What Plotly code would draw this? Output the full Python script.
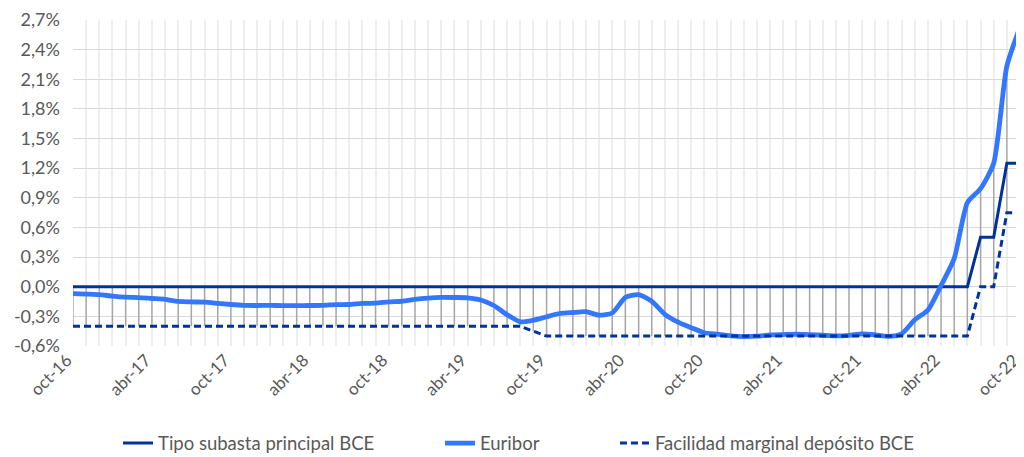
import plotly.graph_objects as go

months_es = ["ene", "feb", "mar", "abr", "may", "jun", "jul", "ago", "sep", "oct", "nov", "dic"]
categories = []
for k in range(73):
    m = (9 + k) % 12
    y = 16 + (9 + k) // 12
    categories.append(f"{months_es[m]}-{y:02d}")

tick_labels = ["oct-16", "abr-17", "oct-17", "abr-18", "oct-18", "abr-19", "oct-19",
               "abr-20", "oct-20", "abr-21", "oct-21", "abr-22", "oct-22"]

# Tipo subasta principal BCE (%)
tipo_bce = [0.0] * 69 + [0.5, 0.5, 1.25, 1.25]

# Facilidad marginal depósito BCE (%)
deposito_bce = [-0.4] * 35 + [-0.45] + [-0.5] * 33 + [0.0, 0.0, 0.75, 0.75]

# Euribor 12M (%)
euribor = [
    -0.069, -0.074, -0.080, -0.095, -0.106, -0.110, -0.119, -0.127, -0.149, -0.154, -0.156, -0.168,
    -0.180, -0.189, -0.190, -0.189, -0.191, -0.191, -0.190, -0.188, -0.181, -0.180, -0.169, -0.166,
    -0.154, -0.147, -0.129, -0.116, -0.108, -0.109, -0.112, -0.134, -0.190, -0.283, -0.356, -0.339,
    -0.304, -0.271, -0.261, -0.253, -0.288, -0.266, -0.108, -0.081, -0.147, -0.279, -0.359, -0.415,
    -0.466, -0.481, -0.497, -0.505, -0.501, -0.487, -0.484, -0.481, -0.484, -0.491, -0.498, -0.492,
    -0.477, -0.487, -0.502, -0.477, -0.335, -0.237, 0.013, 0.287, 0.852, 0.992, 1.249, 2.233, 2.629,
]

y_ticks = [-0.6, -0.3, 0.0, 0.3, 0.6, 0.9, 1.2, 1.5, 1.8, 2.1, 2.4, 2.7]
y_ticktext = ["-0,6%", "-0,3%", "0,0%", "0,3%", "0,6%", "0,9%", "1,2%", "1,5%", "1,8%", "2,1%", "2,4%", "2,7%"]

NAVY = "#003399"
BRIGHT = "#3377FF"
TEXT = "#595959"
FONT = "Lato"

# high-low lines (gray verticals between the max and min of the series in each month)
hl_x, hl_y = [], []
for c, a, b, d in zip(categories, tipo_bce, euribor, deposito_bce):
    hl_x += [c, c, None]
    hl_y += [max(a, b, d), min(a, b, d), None]

fig = go.Figure()
fig.add_trace(go.Scatter(x=hl_x, y=hl_y, mode="lines", line=dict(color="#A6A6A6", width=1.4),
                         showlegend=False, hoverinfo="skip"))
fig.add_trace(go.Scatter(x=categories, y=tipo_bce, mode="lines", name="Tipo subasta principal BCE",
                         line=dict(color=NAVY, width=3), legend="legend"))
fig.add_trace(go.Scatter(x=categories, y=euribor, mode="lines", name="Euribor",
                         line=dict(color=BRIGHT, width=4.8, shape="spline", smoothing=0.6),
                         legend="legend2"))
fig.add_trace(go.Scatter(x=categories, y=deposito_bce, mode="lines", name="Facilidad marginal depósito BCE",
                         line=dict(color=NAVY, width=3, dash="7px,4px"), legend="legend3"))

ticktext = [c if c in tick_labels else "" for c in categories]

leg_common = dict(orientation="h", xref="container", xanchor="left",
                  yref="container", y=0.03, yanchor="middle",
                  font=dict(family=FONT, size=18.5, color=TEXT))

# page has an 8px body margin: figure is sized/offset to compensate
fig.update_layout(
    width=1016, height=449,
    margin=dict(l=65, r=4, t=12, b=111, autoexpand=False),
    paper_bgcolor="white", plot_bgcolor="white",
    font=dict(family=FONT, size=17, color=TEXT),
    legend=dict(x=0.1083, **leg_common),
    legend2=dict(x=0.4252, **leg_common),
    legend3=dict(x=0.5974, **leg_common),
    xaxis=dict(type="category", categoryorder="array", categoryarray=categories,
               tickvals=categories, ticktext=ticktext, tickangle=-45, range=[0, 72],
               showgrid=True, gridcolor="#EEEEEE", gridwidth=1.8, ticks="", showline=False,
               zeroline=False, automargin=False, ticklabelshift=-6,
               tickfont=dict(family=FONT, size=17, color=TEXT)),
    yaxis=dict(range=[-0.6, 2.7], tickvals=y_ticks, ticktext=y_ticktext,
               showgrid=True, gridcolor="#D9D9D9", gridwidth=1.3, zeroline=False,
               showline=False, ticks="", automargin=False, ticklabelstandoff=12,
               tickfont=dict(family=FONT, size=18, color=TEXT)),
)

fig.write_html("out.html")
